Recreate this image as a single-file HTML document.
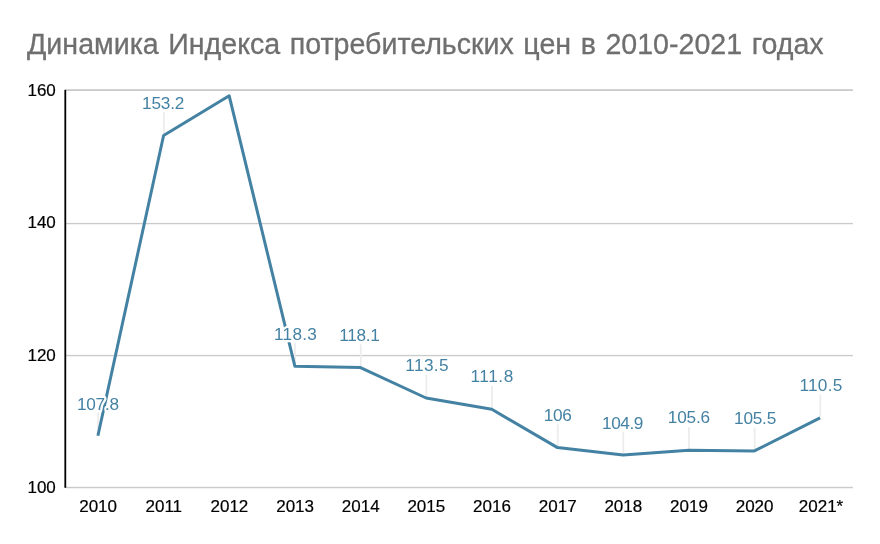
<!DOCTYPE html>
<html lang="ru"><head><meta charset="utf-8"><title>Динамика Индекса потребительских цен</title>
<style>
html,body{margin:0;padding:0;background:#fff;}
body{width:880px;height:544px;overflow:hidden;}
svg{display:block;}
text{font-family:"Liberation Sans",sans-serif;}
.t{font-size:28.6px;word-spacing:1.6px;fill:#6f6f6f;stroke:#6f6f6f;stroke-width:0.3px;}
.ax{font-size:17px;fill:#000;stroke:#000;stroke-width:0.2px;}
.dl{font-size:17.2px;fill:#4482a3;stroke:#fff;stroke-width:4.4px;stroke-linejoin:round;paint-order:stroke fill;}
</style></head><body>
<svg width="880" height="544" viewBox="0 0 880 544">
<rect width="880" height="544" fill="#fff"/>
<text class="t" x="27" y="54">Динамика Индекса потребительских цен в 2010-2021 годах</text>

<rect x="66" y="89.2" width="786.9" height="1.80" fill="#cacaca"/>
<rect x="66" y="222.9" width="786.9" height="1.35" fill="#cacaca"/>
<rect x="66" y="354.9" width="786.9" height="1.35" fill="#cacaca"/>
<rect x="66" y="486.8" width="786.9" height="1.45" fill="#cacaca"/>
<rect x="64.4" y="89.8" width="1.8" height="398" fill="#000"/>
<text class="ax" x="55.8" y="95.9" text-anchor="end">160</text>
<text class="ax" x="55.8" y="228.2" text-anchor="end">140</text>
<text class="ax" x="55.8" y="361.1" text-anchor="end">120</text>
<text class="ax" x="55.8" y="493.4" text-anchor="end">100</text>
<text class="ax" x="98.1" y="511.8" text-anchor="middle">2010</text>
<text class="ax" x="163.8" y="511.8" text-anchor="middle">2011</text>
<text class="ax" x="229.4" y="511.8" text-anchor="middle">2012</text>
<text class="ax" x="295.1" y="511.8" text-anchor="middle">2013</text>
<text class="ax" x="360.7" y="511.8" text-anchor="middle">2014</text>
<text class="ax" x="426.3" y="511.8" text-anchor="middle">2015</text>
<text class="ax" x="492.0" y="511.8" text-anchor="middle">2016</text>
<text class="ax" x="557.7" y="511.8" text-anchor="middle">2017</text>
<text class="ax" x="623.3" y="511.8" text-anchor="middle">2018</text>
<text class="ax" x="689.0" y="511.8" text-anchor="middle">2019</text>
<text class="ax" x="754.6" y="511.8" text-anchor="middle">2020</text>
<text class="ax" x="821.0" y="511.8" text-anchor="middle">2021*</text>
<rect x="97.3" y="412.5" width="1.7" height="22.0" fill="#ececec"/>
<rect x="163.0" y="112.3" width="1.7" height="22.0" fill="#ececec"/>
<rect x="294.2" y="343.1" width="1.7" height="22.0" fill="#ececec"/>
<rect x="359.9" y="344.4" width="1.7" height="22.0" fill="#ececec"/>
<rect x="425.5" y="374.8" width="1.7" height="22.0" fill="#ececec"/>
<rect x="491.2" y="386.1" width="1.7" height="22.0" fill="#ececec"/>
<rect x="556.9" y="424.4" width="1.7" height="22.0" fill="#ececec"/>
<rect x="622.5" y="431.7" width="1.7" height="22.0" fill="#ececec"/>
<rect x="688.1" y="427.1" width="1.7" height="22.0" fill="#ececec"/>
<rect x="753.8" y="427.7" width="1.7" height="22.0" fill="#ececec"/>
<rect x="819.5" y="394.7" width="1.7" height="22.0" fill="#ececec"/>
<polyline points="97.9,435.7 163.6,135.5 229.2,95.8 294.9,366.3 360.5,367.6 426.1,398.0 491.8,409.3 557.5,447.6 623.1,454.9 688.8,450.3 754.4,450.9 820.1,417.9" fill="none" stroke="#4482a3" stroke-width="3" stroke-linejoin="round"/>
<text class="dl" x="76.9" y="409.5" style="letter-spacing:-0.20px">107.8</text>
<text class="dl" x="142.1" y="108.6" style="letter-spacing:-0.17px">153.2</text>
<text class="dl" x="274.1" y="339.9" style="letter-spacing:0.23px">118.3</text>
<text class="dl" x="339.2" y="340.7" style="letter-spacing:-0.28px">118.1</text>
<text class="dl" x="405.3" y="371.2" style="letter-spacing:0.38px">113.5</text>
<text class="dl" x="470.4" y="382.4" style="letter-spacing:0.60px">111.8</text>
<text class="dl" x="543.8" y="420.8" style="letter-spacing:-0.30px">106</text>
<text class="dl" x="602.1" y="428.5" style="letter-spacing:-0.43px">104.9</text>
<text class="dl" x="667.8" y="423.4" style="letter-spacing:-0.17px">105.6</text>
<text class="dl" x="734.1" y="424.1" style="letter-spacing:-0.23px">105.5</text>
<text class="dl" x="799.4" y="391.0" style="letter-spacing:0.32px">110.5</text>
</svg></body></html>
